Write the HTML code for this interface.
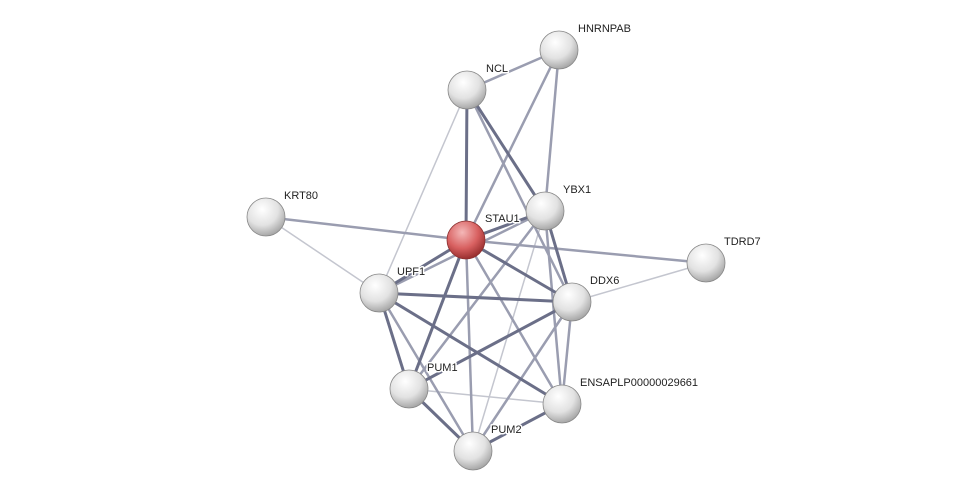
<!DOCTYPE html>
<html><head><meta charset="utf-8"><style>
html,body{margin:0;padding:0;background:#fff;width:976px;height:497px;overflow:hidden}
text{font-family:"Liberation Sans",sans-serif;font-size:11px;fill:#222;paint-order:stroke;stroke:#fff;stroke-width:3px;stroke-linejoin:round}
</style></head><body>
<svg width="976" height="497" viewBox="0 0 976 497" xmlns="http://www.w3.org/2000/svg">
<defs>
<radialGradient id="g" cx="40%" cy="30%" r="70%">
<stop offset="0" stop-color="#ffffff"/><stop offset="0.6" stop-color="#e2e2e2"/><stop offset="1" stop-color="#a8a8a8"/></radialGradient>
<radialGradient id="r" cx="40%" cy="30%" r="70%">
<stop offset="0" stop-color="#f4b8b8"/><stop offset="0.6" stop-color="#d86060"/><stop offset="1" stop-color="#9a3030"/></radialGradient>
</defs>
<g stroke-linecap="round">
<g stroke="#c4c6cf" stroke-width="1.5">
<line x1="467" y1="90" x2="379" y2="293"/>
<line x1="266" y1="217" x2="379" y2="293"/>
<line x1="706" y1="263" x2="572" y2="302"/>
<line x1="545" y1="211" x2="473" y2="451"/>
<line x1="409" y1="389" x2="562" y2="404"/>
</g>
<g stroke="#9a9db0" stroke-width="2.5">
<line x1="467" y1="90" x2="559" y2="50"/>
<line x1="559" y1="50" x2="545" y2="211"/>
<line x1="559" y1="50" x2="466" y2="240"/>
<line x1="467" y1="90" x2="572" y2="302"/>
<line x1="266" y1="217" x2="466" y2="240"/>
<line x1="466" y1="240" x2="706" y2="263"/>
<line x1="545" y1="211" x2="409" y2="389"/>
<line x1="545" y1="211" x2="379" y2="293"/>
<line x1="466" y1="240" x2="562" y2="404"/>
<line x1="379" y1="293" x2="473" y2="451"/>
<line x1="572" y1="302" x2="473" y2="451"/>
<line x1="572" y1="302" x2="562" y2="404"/>
<line x1="545" y1="211" x2="562" y2="404"/>
<line x1="466" y1="240" x2="473" y2="451"/>
</g>
<g stroke="#6b6f88" stroke-width="3">
<line x1="467" y1="90" x2="466" y2="240"/>
<line x1="467" y1="90" x2="545" y2="211"/>
<line x1="466" y1="240" x2="545" y2="211"/>
<line x1="466" y1="240" x2="379" y2="293"/>
<line x1="466" y1="240" x2="572" y2="302"/>
<line x1="466" y1="240" x2="409" y2="389"/>
<line x1="545" y1="211" x2="572" y2="302"/>
<line x1="379" y1="293" x2="572" y2="302"/>
<line x1="379" y1="293" x2="409" y2="389"/>
<line x1="379" y1="293" x2="562" y2="404"/>
<line x1="572" y1="302" x2="409" y2="389"/>
<line x1="409" y1="389" x2="473" y2="451"/>
<line x1="473" y1="451" x2="562" y2="404"/>
</g>
</g>
<g stroke="#888" stroke-width="0.8">
<circle cx="559" cy="50" r="19" fill="url(#g)"/>
<circle cx="467" cy="90" r="19" fill="url(#g)"/>
<circle cx="266" cy="217" r="19" fill="url(#g)"/>
<circle cx="545" cy="211" r="19" fill="url(#g)"/>
<circle cx="706" cy="263" r="19" fill="url(#g)"/>
<circle cx="379" cy="293" r="19" fill="url(#g)"/>
<circle cx="572" cy="302" r="19" fill="url(#g)"/>
<circle cx="409" cy="389" r="19" fill="url(#g)"/>
<circle cx="562" cy="404" r="19" fill="url(#g)"/>
<circle cx="473" cy="451" r="19" fill="url(#g)"/>
<circle cx="466" cy="240" r="19" fill="url(#r)" stroke="#8a3030"/>
</g>
<text x="578" y="32">HNRNPAB</text>
<text x="486" y="72">NCL</text>
<text x="284" y="199">KRT80</text>
<text x="485" y="222">STAU1</text>
<text x="563" y="193">YBX1</text>
<text x="724" y="245">TDRD7</text>
<text x="397" y="275">UPF1</text>
<text x="590" y="284">DDX6</text>
<text x="427" y="371">PUM1</text>
<text x="580" y="386">ENSAPLP00000029661</text>
<text x="491" y="433">PUM2</text>
</svg>
</body></html>
